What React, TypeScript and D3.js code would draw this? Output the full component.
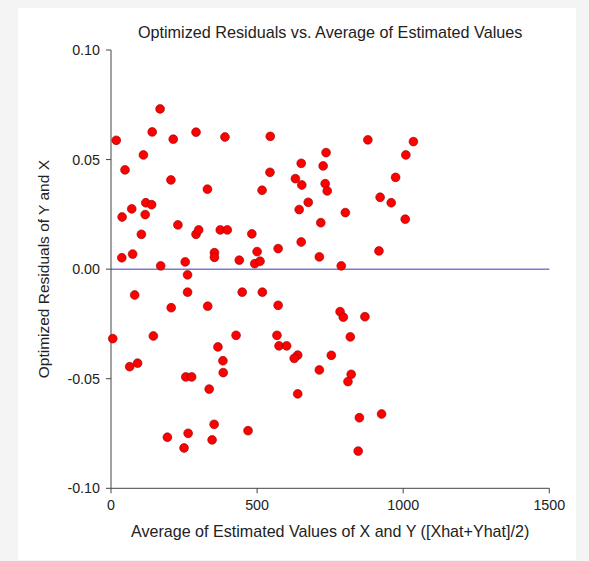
import React from "react";
import * as d3 from "d3";

const xValues = [
  18, 168, 141, 213, 291, 390, 545, 111, 48, 205, 330, 544, 517, 71, 119, 139, 38, 117, 229, 104,
  291, 300, 374, 398, 482, 572, 37, 74, 354, 354, 439, 500, 492, 510, 170, 254, 262,
  879, 1035, 736, 1009, 651, 726, 631, 653, 733, 740, 974, 921, 959, 675, 644, 802, 1007, 718, 651, 713, 917, 788,
  81, 262, 449, 518, 206, 331, 572, 6, 145, 428, 568, 366, 575, 601, 383, 64, 91, 256, 276, 384, 336,
  353, 469, 193, 264, 346, 250,
  784, 795, 869, 819, 639, 627, 754, 713, 822, 811, 639, 850, 926, 846,
];
const residuals = [
  0.0588, 0.0731, 0.0626, 0.0593, 0.0625, 0.0603, 0.0606, 0.0521, 0.0453, 0.0407, 0.0365, 0.0442, 0.036, 0.0275, 0.0303, 0.0294, 0.0238, 0.0249, 0.0202, 0.0159,
  0.0159, 0.0179, 0.0179, 0.0179, 0.0161, 0.0094, 0.0052, 0.0069, 0.0075, 0.0054, 0.0041, 0.008, 0.0025, 0.0036, 0.0015, 0.0033, -0.0026,
  0.059, 0.0582, 0.0532, 0.0521, 0.0483, 0.0471, 0.0413, 0.0384, 0.039, 0.0357, 0.0419, 0.0328, 0.0303, 0.0305, 0.0272, 0.0258, 0.0228, 0.0212, 0.0124, 0.0056, 0.0083, 0.0015,
  -0.0118, -0.0105, -0.0105, -0.0105, -0.0176, -0.0169, -0.0165, -0.0317, -0.0305, -0.0302, -0.0302, -0.0355, -0.035, -0.035, -0.0418, -0.0445, -0.0429, -0.0492, -0.0492, -0.0472, -0.0547,
  -0.0708, -0.0737, -0.0767, -0.0749, -0.0779, -0.0816,
  -0.0194, -0.0219, -0.0217, -0.0309, -0.0392, -0.0407, -0.0393, -0.046, -0.048, -0.0513, -0.0569, -0.0678, -0.0661, -0.083,
];
const xTicks = [0, 500, 1000, 1500];
const yTicks = [-0.1, -0.05, 0, 0.05, 0.1];

const title = "Optimized Residuals vs. Average of Estimated Values";
const xTitle = "Average of Estimated Values of X and Y ([Xhat+Yhat]/2)";
const yTitle = "Optimized Residuals of Y and X";

export default function App() {
  const W = 589;
  const H = 561;
  const left = 111;
  const right = 549.3;
  const top = 50;
  const bottom = 488.3;
  const x = d3.scaleLinear().domain([0, 1500]).range([left, right]);
  const y = d3.scaleLinear().domain([-0.1, 0.1]).range([bottom, top]);
  const font = "'Liberation Sans', Arial, sans-serif";
  const axisColor = "#444";
  const fmtY = (t: number) => d3.format(".2f")(t).replace("\u2212", "-");
  return (
    <svg
      width={W}
      height={H}
      style={{ position: "absolute", left: 0, top: 0, display: "block" }}
      fontFamily={font}
    >
      <rect x={0} y={0} width={W} height={H} fill="#f4f4f4" />
      <rect x={18} y={8} width={558} height={552} fill="#ffffff" />
      <text x={(left + right) / 2} y={38} textAnchor="middle" fontSize={16.2} fill="#222">
        {title}
      </text>
      <line x1={left} x2={right} y1={y(0)} y2={y(0)} stroke="#7b7bd0" strokeWidth={1.5} />
      <line x1={left} x2={left} y1={top} y2={bottom} stroke={axisColor} strokeWidth={1} />
      <line x1={left} x2={right} y1={bottom} y2={bottom} stroke={axisColor} strokeWidth={1} />
      {yTicks.map((t) => (
        <g key={"y" + t}>
          <line x1={left - 5} x2={left} y1={y(t)} y2={y(t)} stroke={axisColor} />
          <text x={left - 11} y={y(t) + 5} textAnchor="end" fontSize={14.3} fill="#222">
            {fmtY(t)}
          </text>
        </g>
      ))}
      {xTicks.map((t) => (
        <g key={"x" + t}>
          <line x1={x(t)} x2={x(t)} y1={bottom} y2={bottom + 5} stroke={axisColor} />
          <text x={x(t)} y={bottom + 22} textAnchor="middle" fontSize={14.3} fill="#222">
            {t}
          </text>
        </g>
      ))}
      <text x={(left + right) / 2} y={537} textAnchor="middle" fontSize={16.1} fill="#222">
        {xTitle}
      </text>
      <text
        transform={`translate(49, ${(top + bottom) / 2}) rotate(-90)`}
        textAnchor="middle"
        fontSize={15.5}
        fill="#222"
      >
        {yTitle}
      </text>
      {xValues.map((v, i) => (
        <circle
          key={i}
          cx={x(v)}
          cy={y(residuals[i])}
          r={4.4}
          fill="#ff0000"
          stroke="#8b0000"
          strokeWidth={0.6}
        />
      ))}
    </svg>
  );
}
